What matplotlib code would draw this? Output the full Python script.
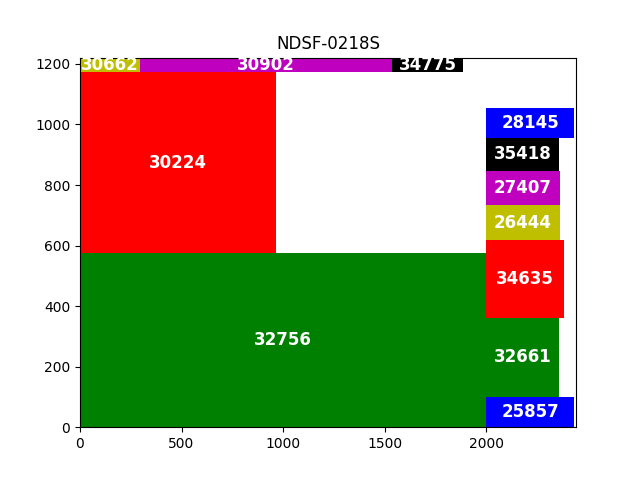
import matplotlib
matplotlib.use("Agg")
import matplotlib.pyplot as plt
from matplotlib.patches import Rectangle

title = "NDSF-0218S"
labels = ["32756", "30224", "30662", "30902", "34775",
          "25857", "32661", "34635", "26444", "27407", "35418", "28145"]
x0 = [0, 0, 0, 296, 1538, 2000, 2000, 2000, 2000, 2000, 2000, 2000]
y0 = [0, 575, 1173, 1173, 1173, 0, 100, 362, 618, 734, 846, 956]
widths = [2000, 965, 296, 1242, 347, 433, 360, 384, 365, 365, 360, 433]
heights = [575, 598, 48, 48, 48, 100, 262, 256, 116, 112, 110, 98]
colors = ["g", "r", "y", "m", "k", "b", "g", "r", "y", "m", "k", "b"]

fig, ax = plt.subplots(figsize=(6.4, 4.8), dpi=100)
for lab, x, y, w, h, c in zip(labels, x0, y0, widths, heights, colors):
    ax.add_patch(Rectangle((x, y), w, h, facecolor=c, edgecolor="none"))
    ax.text(x + w / 2, y + h / 2, lab, color="white", fontsize=12,
            fontweight="bold", ha="center", va="center")
ax.set_xlim(0, 2443)
ax.set_ylim(0, 1221)
ax.set_title(title)
fig.savefig("out.png")
